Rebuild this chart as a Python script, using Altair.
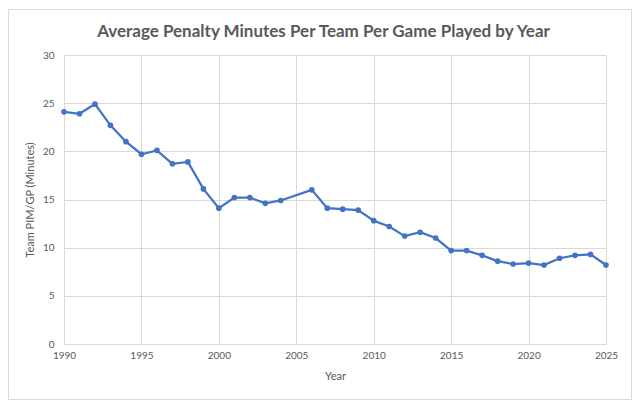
import altair as alt
import pandas as pd

years = [1990, 1991, 1992, 1993, 1994, 1995, 1996, 1997, 1998, 1999,
         2000, 2001, 2002, 2003, 2004, 2006, 2007, 2008, 2009, 2010,
         2011, 2012, 2013, 2014, 2015, 2016, 2017, 2018, 2019, 2020,
         2021, 2022, 2023, 2024, 2025]
pim_per_gp = [24.1, 23.9, 24.9, 22.7, 21.0, 19.7, 20.1, 18.7, 18.9, 16.1,
              14.1, 15.2, 15.2, 14.6, 14.9, 16.0, 14.1, 14.0, 13.9, 12.8,
              12.2, 11.2, 11.6, 11.0, 9.7, 9.7, 9.2, 8.6, 8.3, 8.4,
              8.2, 8.9, 9.2, 9.3, 8.2]
title_text = "Average Penalty Minutes Per Team Per Game Played by Year"

df = pd.DataFrame({"Year": years, "PIM": pim_per_gp})

FONT = "Lato"
GRAY = "#595959"
GRID = "#d9d9d9"
BLUE = "#4472c4"

W, H = 542, 289

x = alt.X("Year:Q", scale=alt.Scale(domain=[1990, 2025], nice=False),
          axis=alt.Axis(values=list(range(1990, 2026, 5)), format="d",
                        title="Year", grid=True, tickSize=0, labelPadding=6,
                        titlePadding=10, labelFlush=False, labelOverlap=False))
y = alt.Y("PIM:Q", scale=alt.Scale(domain=[0, 30], nice=False),
          axis=alt.Axis(values=list(range(0, 31, 5)), title="Team PIM/GP (Minutes)",
                        grid=True, tickSize=0, labelPadding=10, titlePadding=7,
                        labelFlush=False))

base = alt.Chart(df)
line = base.mark_line(color=BLUE, strokeWidth=2.25).encode(x=x, y=y)
pts = base.mark_point(filled=True, color=BLUE, size=32, opacity=1).encode(x="Year:Q", y="PIM:Q")

border = alt.Chart(pd.DataFrame({"a": [0]})).mark_rect(
    fill=None, stroke=GRID, strokeWidth=1
).encode(x=alt.value(-55.5), x2=alt.value(567.5), y=alt.value(-45.5), y2=alt.value(344.5))

title = alt.Chart(pd.DataFrame({"t": [title_text]})).mark_text(
    font=FONT, fontSize=17, fontWeight="bold", color=GRAY, align="center", baseline="alphabetic"
).encode(text="t:N", x=alt.value(259.5), y=alt.value(-18))

chart = alt.layer(border, line, pts, title).properties(
    width=W, height=H,
    autosize=alt.AutoSizeParams(type="none"),
    padding={"left": 56, "top": 47, "right": 26, "bottom": 56},
).configure_view(stroke=None).configure_axis(
    domainColor=GRID, gridColor=GRID, labelColor=GRAY, titleColor=GRAY,
    labelFont=FONT, titleFont=FONT, labelFontSize=10, titleFontSize=11,
    titleFontWeight="normal"
)

chart.save("out.html", embed_options={"renderer": "svg", "actions": False})
